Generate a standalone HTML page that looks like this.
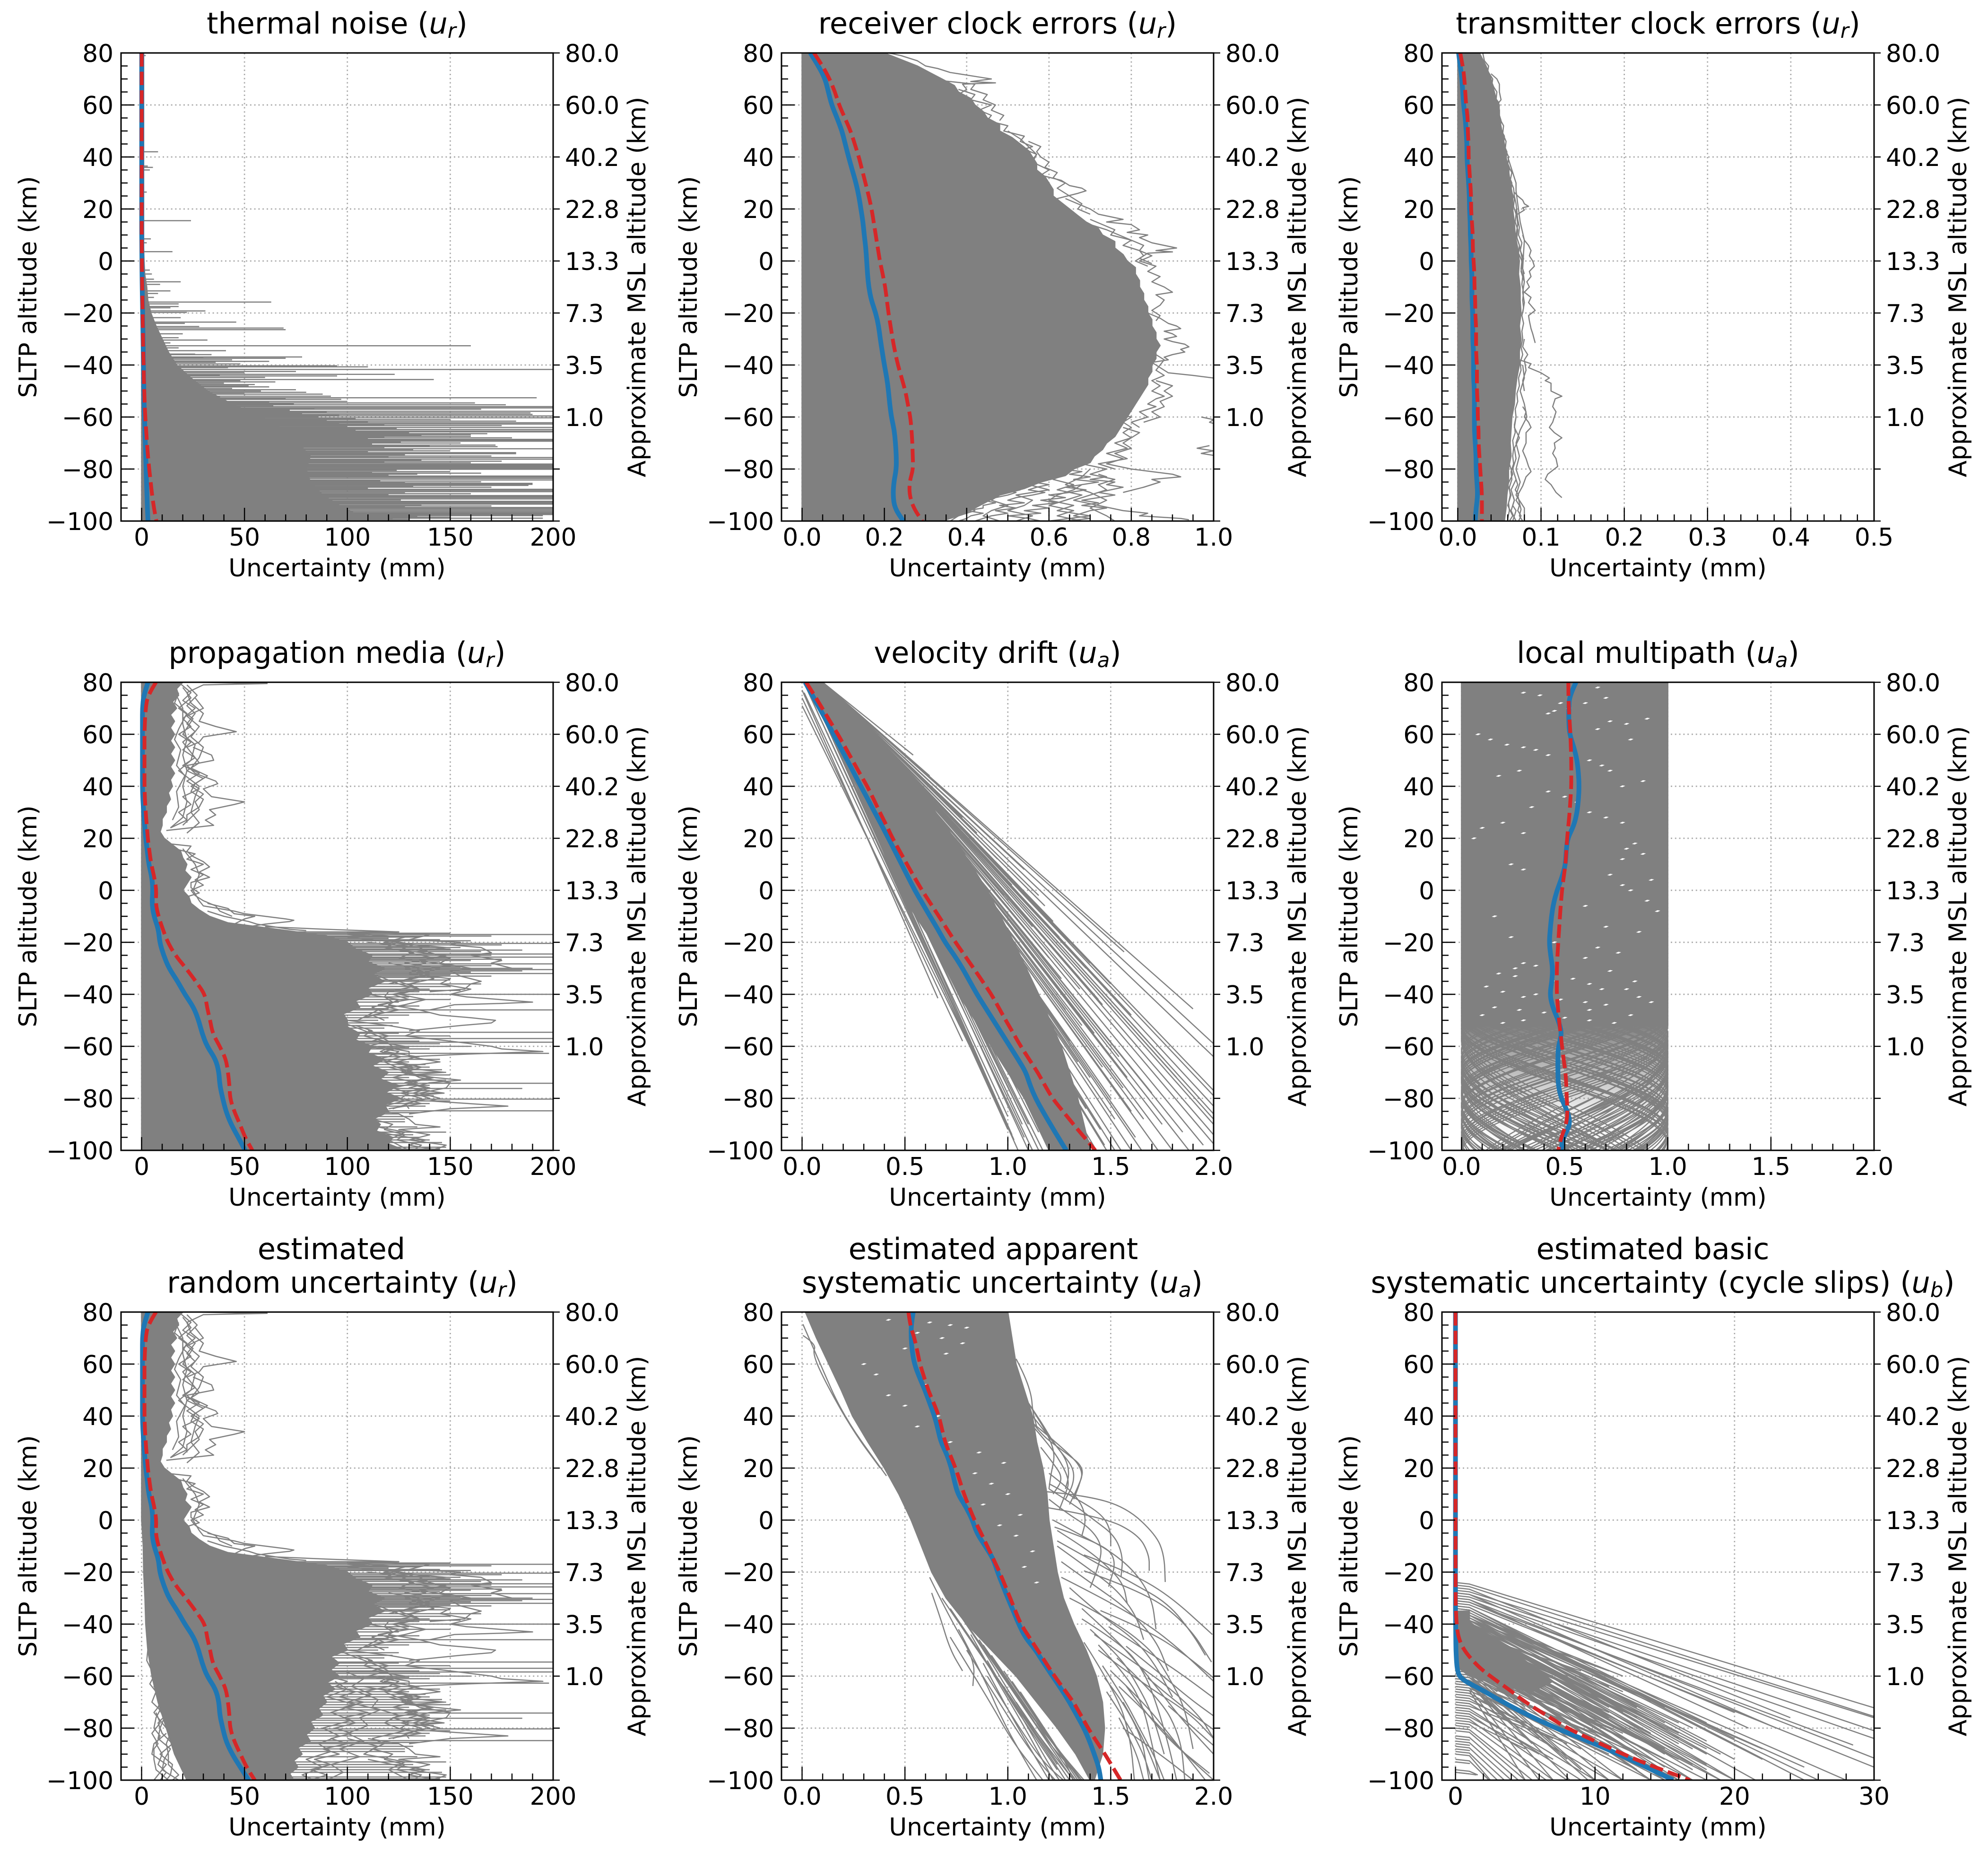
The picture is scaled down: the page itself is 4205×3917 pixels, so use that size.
<!DOCTYPE html>
<html lang="en">
<head>
<meta charset="utf-8">
<title>Uncertainty profiles by error source</title>
<style>
html,body{margin:0;padding:0;background:#fff;}
svg{display:block;font-family:"DejaVu Sans","Liberation Sans",sans-serif;}
.lab{font-size:51.7px;fill:#000;text-anchor:middle;}
.ttl{font-size:62px;fill:#000;text-anchor:middle;}
.it{font-style:italic;}
.sub{font-style:italic;font-size:43.5px;}
.tk{font-size:51.7px;fill:#000;}
</style>
</head>
<body>
<svg id="chart" xmlns="http://www.w3.org/2000/svg" width="4205" height="3917" viewBox="0 0 4205 3917">
<rect width="4205" height="3917" fill="#ffffff"/>
<g id="plots"></g>

<text class="ttl" x="713" y="71">thermal noise (<tspan class="it">u</tspan><tspan class="sub" dy="9">r</tspan><tspan dy="-9">)</tspan></text>
<text class="ttl" x="2110" y="71">receiver clock errors (<tspan class="it">u</tspan><tspan class="sub" dy="9">r</tspan><tspan dy="-9">)</tspan></text>
<text class="ttl" x="3507" y="71">transmitter clock errors (<tspan class="it">u</tspan><tspan class="sub" dy="9">r</tspan><tspan dy="-9">)</tspan></text>
<text class="ttl" x="713" y="1402">propagation media (<tspan class="it">u</tspan><tspan class="sub" dy="9">r</tspan><tspan dy="-9">)</tspan></text>
<text class="ttl" x="2110" y="1402">velocity drift (<tspan class="it">u</tspan><tspan class="sub" dy="9">a</tspan><tspan dy="-9">)</tspan></text>
<text class="ttl" x="3507" y="1402">local multipath (<tspan class="it">u</tspan><tspan class="sub" dy="9">a</tspan><tspan dy="-9">)</tspan></text>
<text class="ttl" x="701" y="2663">estimated</text>
<text class="ttl" x="724" y="2734">random uncertainty (<tspan class="it">u</tspan><tspan class="sub" dy="9">r</tspan><tspan dy="-9">)</tspan></text>
<text class="ttl" x="2101" y="2663">estimated apparent</text>
<text class="ttl" x="2120" y="2734">systematic uncertainty (<tspan class="it">u</tspan><tspan class="sub" dy="9">a</tspan><tspan dy="-9">)</tspan></text>
<text class="ttl" x="3496" y="2663">estimated basic</text>
<text class="ttl" x="3517" y="2734">systematic uncertainty (cycle slips) (<tspan class="it">u</tspan><tspan class="sub" dy="9">b</tspan><tspan dy="-9">)</tspan></text>

<text class="lab" x="713" y="1219">Uncertainty (mm)</text>
<text class="lab" x="2110" y="1219">Uncertainty (mm)</text>
<text class="lab" x="3507" y="1219">Uncertainty (mm)</text>
<text class="lab" x="713" y="2550">Uncertainty (mm)</text>
<text class="lab" x="2110" y="2550">Uncertainty (mm)</text>
<text class="lab" x="3507" y="2550">Uncertainty (mm)</text>
<text class="lab" x="713" y="3882">Uncertainty (mm)</text>
<text class="lab" x="2110" y="3882">Uncertainty (mm)</text>
<text class="lab" x="3507" y="3882">Uncertainty (mm)</text>

<text class="lab" transform="translate(77 607) rotate(-90)">SLTP altitude (km)</text>
<text class="lab" transform="translate(1474 607) rotate(-90)">SLTP altitude (km)</text>
<text class="lab" transform="translate(2871 607) rotate(-90)">SLTP altitude (km)</text>
<text class="lab" transform="translate(77 1938) rotate(-90)">SLTP altitude (km)</text>
<text class="lab" transform="translate(1474 1938) rotate(-90)">SLTP altitude (km)</text>
<text class="lab" transform="translate(2871 1938) rotate(-90)">SLTP altitude (km)</text>
<text class="lab" transform="translate(77 3270) rotate(-90)">SLTP altitude (km)</text>
<text class="lab" transform="translate(1474 3270) rotate(-90)">SLTP altitude (km)</text>
<text class="lab" transform="translate(2871 3270) rotate(-90)">SLTP altitude (km)</text>

<text class="lab" transform="translate(1365 607) rotate(-90)">Approximate MSL altitude (km)</text>
<text class="lab" transform="translate(2762 607) rotate(-90)">Approximate MSL altitude (km)</text>
<text class="lab" transform="translate(4159 607) rotate(-90)">Approximate MSL altitude (km)</text>
<text class="lab" transform="translate(1365 1938) rotate(-90)">Approximate MSL altitude (km)</text>
<text class="lab" transform="translate(2762 1938) rotate(-90)">Approximate MSL altitude (km)</text>
<text class="lab" transform="translate(4159 1938) rotate(-90)">Approximate MSL altitude (km)</text>
<text class="lab" transform="translate(1365 3270) rotate(-90)">Approximate MSL altitude (km)</text>
<text class="lab" transform="translate(2762 3270) rotate(-90)">Approximate MSL altitude (km)</text>
<text class="lab" transform="translate(4159 3270) rotate(-90)">Approximate MSL altitude (km)</text>
</svg>

<script>
/* ---------- shared axis values ---------- */
const altFive = [80,75,70,65,60,55,50,45,40,35,30,25,20,15,10,5,0,-5,-10,-15,-20,-25,-30,-35,-40,-45,-50,-55,-60,-65,-70,-75,-80,-85,-90,-95,-100];
const altTen = [80,70,60,50,40,30,20,10,0,-10,-20,-30,-40,-50,-60,-70,-80,-90,-100];
const altFine = [80,77.5,75,72.5,70,67.5,65,62.5,60,57.5,55,52.5,50,47.5,45,42.5,40,37.5,35,32.5,30,27.5,25,22.5,20,17.5,15,12.5,10,7.5,5,2.5,0,-2.5,-5,-7.5,-10,-12.5,-15,-17.5,-20,-22.5,-25,-27.5,-30,-32.5,-35,-37.5,-40,-42.5,-45,-47.5,-50,-52.5,-55,-57.5,-60,-62.5,-65,-67.5,-70,-72.5,-75,-77.5,-80,-82.5,-85,-87.5,-90,-92.5,-95,-97.5,-100];
const wallAlt = [80,-100];
const wallZero = [0,0];
const yMajorTicks = [80,60,40,20,0,-20,-40,-60,-80,-100];
const yLeftLabels = ['80','60','40','20','0','\u221220','\u221240','\u221260','\u221280','\u2212100'];
const yRightLabels = ['80.0','60.0','40.2','22.8','13.3','7.3','3.5','1.0','',''];

/* ---------- thermal noise ---------- */
const thermalBlue = [.05,.05,.05,.05,.05,.05,.05,.05,.05,.05,.05,.05,.05,.05,.05,.1,.15,.2,.3,.4,.5,.6,.7,.8,.9,1,1.1,1.2,1.4,1.6,1.8,2,2.2,2.4,2.6,2.8,3.1];
const thermalRed = [.05,.05,.05,.05,.05,.05,.05,.05,.05,.05,.05,.05,.05,.05,.05,.1,.15,.2,.3,.4,.5,.6,.7,.8,1,1.1,1.3,1.5,1.8,2.2,2.6,3.1,3.7,4.4,5.1,6,7.2];
const thermalHigh = [1,1,1,1,1,1,1,1,1,1,1,1,1,1,1,1,1.2,1.5,2.5,3,4.5,7,10,13,17,24,32,44,58,70,76,82,80,82,88,98,112];
const thermalSpikes = [[79,2],[42,8],[36.5,3],[36,5.5],[35,4],[26.5,2.5],[15.5,24],[8.5,4.5],[7,2.5],[3.6,15],[-3.5,4],[-5,5],[-7,6],[-8,19],[-9,9],[-11.5,14],[-12.5,8],[-14,6],[-15.8,63],[-16.5,18],[-17.5,18],[-18,14],[-19.2,31],[-19.8,22],[-21.8,19],[-23.5,46],[-24,21],[-25.2,28],[-25.8,69],[-26.4,70],[-28,20],[-29.5,18],[-30.4,32],[-31.5,14],[-32.6,160],[-33.4,18],[-34.5,41],[-35.8,26],[-36.9,78],[-37.4,70],[-38.6,62],[-39.6,48],[-40.3,95],[-40.7,110],[-41.7,200],[-42.5,75],[-43.6,123],[-44.2,95],[-44.8,60],[-45.6,142],[-46.5,65],[-47.5,55],[-48.4,62],[-49.5,75],[-50.5,80],[-51.2,88],[-52,92],[-52.6,192],[-53.2,97],[-54,100],[-54.6,162],[-55.3,177],[-56,200],[-56.5,200],[-57,165],[-57.8,200],[-58.4,189],[-59,190],[-59.6,200],[-60.3,200],[-61,150],[-61.6,182],[-62.2,200],[-62.7,200],[-63.3,175],[-64,200],[-64.8,200],[-65.4,200],[-65.7,200],[-66.4,168],[-66.8,160],[-67.4,160],[-68,180],[-68.6,200],[-68.9,200],[-69.3,200],[-70,155],[-70.8,172],[-71.4,173],[-72.2,200],[-73,150],[-73.7,182],[-74.1,182],[-75,170],[-75.6,200],[-76.2,200],[-77,175],[-77.6,160],[-78.1,200],[-78.5,200],[-78.9,200],[-79.3,200],[-79.7,200],[-80.1,200],[-81,150],[-81.6,165],[-82.7,200],[-83.1,200],[-83.6,200],[-84.2,200],[-84.9,165],[-85.5,190],[-85.9,190],[-86.3,188],[-87,170],[-87.8,200],[-88.2,200],[-88.7,200],[-89.5,160],[-90.2,200],[-90.6,200],[-91,200],[-91.5,200],[-92.4,200],[-92.8,200],[-93.2,200],[-93.5,200],[-94.2,170],[-94.8,200],[-95.2,200],[-95.7,200],[-96.2,200],[-96.7,200],[-97.1,200],[-97.5,200],[-97.9,195],[-98.5,150],[-98.9,195],[-99.4,130],[-99.8,160],
[-36,34],[-37,30],[-38,44],[-39,36],[-41,42],[-43,50],[-44,38],[-46,48],[-47,40],[-48,52],[-49,44],[-50,58],[-51,50],[-53,70],[-54.3,62],[-55,74],[-55.7,64],[-56.8,84],[-57.4,72],[-58,90],[-58.8,78],[-59.3,96],[-60,86],[-60.7,104],[-61.3,90],[-62,110],[-62.5,96],[-63,118],[-63.7,100],[-64.4,124],[-65,104],[-66,130],[-66.6,112],[-67.1,136],[-67.7,118],[-68.3,110],[-69.6,126],[-70.4,112],[-71,140],[-71.7,118],[-72.5,132],[-73.3,110],[-74.5,128],[-75.3,120],[-76.6,136],[-77.3,118],[-80.5,124],[-81.3,112],[-82,134],[-82.4,120],[-84.6,116],[-85.2,128],[-86.7,132],[-87.4,110],[-89,128],[-89.9,120],[-91.9,126],[-94,136],[-94.5,128],[-98.2,134],[-99,122]];

/* ---------- receiver clock errors ---------- */
const receiverBlue = [.02,.04,.056,.064,.072,.085,.097,.105,.113,.122,.131,.138,.143,.148,.151,.155,.157,.159,.162,.168,.179,.186,.19,.195,.2,.206,.21,.213,.217,.224,.227,.229,.229,.223,.221,.225,.246];
const receiverRed = [.029,.05,.067,.08,.09,.104,.118,.128,.138,.146,.154,.162,.169,.174,.179,.184,.189,.196,.202,.206,.21,.215,.22,.226,.233,.242,.251,.257,.263,.266,.268,.269,.27,.261,.261,.271,.292];
const receiverHigh = [.2,.24,.28,.31,.34,.37,.38,.41,.42,.44,.45,.48,.48,.51,.53,.55,.56,.57,.57,.59,.6,.61,.61,.63,.65,.67,.69,.72,.73,.76,.76,.78,.79,.81,.81,.82,.82,.83,.83,.84,.84,.85,.85,.86,.86,.87,.86,.86,.85,.85,.84,.84,.83,.82,.81,.8,.79,.78,.77,.76,.74,.73,.71,.7,.66,.64,.58,.54,.48,.45,.42,.39,.34];
const receiverRough = [
[80,.21,79,.24,77,.28,75,.3,74,.33,72.5,.36,72,.38,70.5,.44,70,.46,69,.41,68.5,.47,68,.39,66,.4,64,.38,61,.4],
[66,.38,64,.42,62,.41,60,.46,58,.43,56,.46,54,.45,52,.5,50,.49,48,.54,46,.53,44,.56,43,.54,41,.57,39,.56],
[50,.5,47,.53,44,.55,41,.57,38,.56,35,.6,33,.58,31,.63,29,.65,28,.68,27,.69,26,.67,24,.62,21,.63],
[24,.64,22,.67,20,.7,18,.72,16,.78,15,.74,14,.8,12,.82,11,.79,10,.84,9,.82,7,.85,6,.88,5,.91,4,.86,3.5,.9,3,.84,1,.82,-1,.85],
[14,.7,12,.74,10,.77,8,.8,6,.83,4,.82,2,.85,0,.82,-2,.86,-4,.84,-6,.87,-8,.85,-10,.88,-11,.89,-12,.9,-13,.86,-15,.88,-17,.87,-19,.85,-21,.87,-23,.86],
[-20,.84,-22,.87,-24,.89,-25,.91,-26,.92,-27,.88,-28,.9,-29,.91,-30,.88,-31,.9,-32,.93,-33,.94,-34,.92,-35,.93,-36,.9,-37,.88,-38,.89,-39,.85,-41,.87,-43,.89,-44,.95,-45,1,-45.5,1.02],
[-36,.86,-38,.88,-40,.87,-42,.86,-44,.88,-46,.85,-48,.87,-50,.85,-52,.88,-53,.86,-55,.84,-56,.86,-58,.82,-60,.84,-62,.8,-64,.82],
[-60,.97,-61,1,-62,.99,-63,1.01],[-71,.99,-72,.96,-73,1,-74,.97,-75,1.01],
[-58,.74,-60,.8,-62,.78,-64,.8,-66,.78,-68,.8,-70,.76,-72,.79,-74,.74,-76,.78,-78,.74,-80,.8,-81,.85,-82,.9,-83,.92,-84,.85,-85,.87,-87,.83,-89,.78],
[-74,.66,-76,.7,-78,.68,-80,.74,-82,.7,-84,.76,-86,.72,-88,.74,-90,.7,-92,.66,-94,.72,-96,.78,-97,.84,-98,.82,-99,.92,-99.5,.94],
[-80,.6,-82,.64,-84,.61,-86,.66,-88,.62,-90,.68,-92,.64,-94,.6,-96,.66,-98,.62,-100,.68],
[-82,.54,-84,.58,-86,.55,-88,.6,-90,.52,-92,.56,-94,.54,-96,.5,-98,.56,-100,.52],
[-84,.48,-86,.5,-88,.53,-90,.48,-92,.46,-94,.5,-96,.46,-98,.44,-100,.48],
[-84,.44,-86,.42,-88,.46,-90,.44,-92,.42,-94,.4,-96,.42,-98,.38,-100,.36],
[-86,.68,-88,.66,-90,.62,-92,.6,-94,.66,-96,.62,-98,.7,-100,.6],
[-80,.7,-83,.68,-86,.64,-89,.7,-92,.74,-95,.7,-98,.74,-100,.76],
[-88,.36,-90,.34,-92,.38,-94,.34,-96,.36,-98,.34,-100,.32],
[-78,.62,-79,.66,-80,.63,-81,.68,-82,.65,-83,.7,-84,.66,-85,.72,-86,.68,-87,.64,-88,.69,-89,.65,-90,.6,-91,.64,-92,.58,-93,.62,-94,.56,-95,.6,-96,.54,-97,.58,-98,.5,-99,.55,-100,.58],
[-85,.56,-86,.6,-87,.57,-88,.55,-89,.59,-90,.56,-91,.52,-92,.5,-93,.54,-94,.48,-95,.52,-96,.47,-97,.5,-98,.46,-99,.44,-100,.42],
[-82,.72,-83,.74,-84,.7,-85,.76,-86,.74,-87,.78,-88,.75,-89,.72,-90,.76,-91,.72,-92,.68,-93,.72,-94,.68,-95,.74,-96,.7,-97,.68,-98,.66,-99,.7,-100,.64],
[-86,.48,-87,.52,-88,.49,-89,.52,-90,.5,-91,.47,-92,.44,-93,.47,-94,.44,-95,.44,-96,.4,-97,.44,-98,.41,-99,.4,-100,.38],
[70,.3,68,.42,66,.41,64,.45,62,.44,60,.47,58,.46,56,.49,54,.48],
[46,.55,44,.58,42,.57,40,.58,38,.6,36,.59,34,.62,32,.61,30,.64,28,.62,26,.64,24,.66,22,.68,20,.67,18,.7],
[16,.7,14,.73,12,.76,10,.75,8,.8,6,.78,4,.82,2,.83,0,.81,-2,.84],
[-46,.86,-48,.9,-50,.88,-52,.9,-54,.87,-56,.88,-58,.85,-60,.87,-62,.83],
[-64,.78,-66,.82,-68,.8,-70,.78,-72,.8,-74,.76,-76,.79,-78,.72,-80,.76]
];

/* ---------- transmitter clock errors ---------- */
const transmitterBlue = [.001,.003,.005,.006,.007,.009,.01,.011,.011,.012,.013,.014,.014,.015,.015,.016,.016,.017,.017,.017,.018,.018,.018,.019,.019,.019,.02,.02,.02,.02,.021,.022,.022,.023,.024,.022,.021];
const transmitterRed = [.003,.006,.008,.009,.01,.012,.012,.013,.013,.014,.015,.016,.016,.017,.018,.018,.019,.02,.02,.021,.021,.022,.022,.022,.023,.023,.023,.024,.024,.025,.025,.026,.027,.028,.029,.029,.029];
const transmitterHigh = [.026,.034,.04,.044,.048,.05,.053,.056,.058,.061,.063,.066,.066,.068,.069,.072,.074,.073,.075,.075,.076,.074,.076,.074,.074,.071,.069,.068,.065,.064,.063,.064,.061,.061,.059,.058,.056];
const transmitterRough = [
[-38,.074,-39.5,.088,-41,.085,-43,.1,-45,.11,-46,.105,-47,.112,-50,.112,-52,.125,-53,.117,-56,.114,-58,.118,-60,.116,-62,.114,-64,.11,-66,.116,-68,.125,-70,.116,-72,.117,-74,.114,-76,.118,-79,.12,-82,.108,-84,.105,-86,.112,-89,.118,-91,.125],
[26.4,.068,25,.072,23.4,.078,22,.08,21,.085,20.5,.078,19.6,.08,18,.072],
[10,.078,8,.08,6,.085,4,.088,2,.086,0,.09,-2,.092,-4,.086,-6,.088,-8,.083,-10,.086,-12,.08,-14,.088,-16,.085,-19,.093,-21,.085,-23,.086,-26,.088,-28,.09,-31.5,.093],
[72,.04,70,.047,68,.05,65,.05,62,.052,60,.047,58,.05,54,.05,50,.053,47,.052],
[40,.06,36,.064,30,.07,27,.07,22,.072,15,.075,8,.08,3,.079,-3,.078,-8,.08],
[-56,.078,-58,.082,-60,.08,-62,.085,-64,.088,-66,.082,-70,.082,-73,.078,-76,.082,-79,.085,-81,.088,-83,.082,-86.5,.078,-90,.072,-93,.074,-95.5,.076,-98,.074,-100,.078],
[-40,.078,-45,.08,-50,.075,-55,.08,-60,.083,-65,.075,-70,.07,-75,.074,-80,.07,-85,.075,-90,.07,-95,.08,-100,.08],
[-30,.08,-33,.078,-36,.084,-38,.08,-42,.082,-46,.078,-50,.08],
[-60,.07,-64,.068,-68,.074,-72,.068,-76,.07,-80,.066,-84,.07,-88,.064,-92,.068,-96,.064,-100,.07],
[20,.07,14,.072,10,.07,6,.074,0,.078,-4,.076,-8,.08,-12,.078,-16,.08,-20,.078],
[-70,.06,-74,.064,-78,.062,-82,.066,-86,.06,-90,.064,-94,.06,-98,.066,-100,.062],
[80,.03,77,.032,75,.037,73,.036,70,.042,68,.041,65,.047,62,.046,60,.05,57,.049,54,.052,51,.051,48,.056,45,.055,42,.059,39,.058,36,.062,33,.061,30,.065,27,.064,24,.068,21,.067,18,.07,15,.069,12,.072,9,.071,6,.074,3,.073,0,.077,-3,.076,-6,.078,-9,.077,-12,.079,-15,.078,-18,.079,-21,.077,-24,.079,-27,.077,-30,.078,-33,.076,-36,.078,-39,.075,-42,.076,-45,.073,-48,.074,-51,.071,-54,.072,-57,.069,-60,.07,-63,.068,-66,.069,-69,.066,-72,.067,-75,.066,-78,.067,-81,.064,-84,.065,-87,.062,-90,.063,-93,.061,-96,.062,-99,.06],
[78,.028,74,.033,71,.038,67,.043,64,.042,61,.049,58,.05,55,.05,52,.055,49,.054,46,.058,43,.057,40,.061,37,.06,34,.065,31,.063,28,.067,25,.068,22,.07,19,.071,16,.072,13,.074,10,.073,7,.077,4,.075,1,.079,-2,.077,-5,.08],
[-84,.07,-86,.072,-88,.069,-90,.073,-92,.07,-94,.074,-96,.072,-98,.076,-100,.073],
[-90,.066,-92,.068,-94,.066,-96,.07,-98,.068,-100,.066]
];

/* ---------- propagation media ---------- */
const mediaBlue = [3.1,1,.4,.4,.4,.4,.4,.4,.4,.6,1,1.5,2,2.8,3.5,5,5.5,5,6,8.2,8.8,10.7,13.3,17.5,21,25.3,27.7,29.4,31.8,36,37.6,38,39.4,41,43.5,47,50.3];
const mediaRed = [7,3,2,1.6,1.4,1.4,1.4,1.4,1.4,1.6,2,2.5,3,3.8,4.7,6.2,7.2,6.8,8.2,10.3,12.7,16.4,21.6,26.3,30.8,31.8,33.3,34.5,38,41,42,42.7,43,45,47.8,50.3,53.8];
const mediaHigh = [20,17,18,15,17,14,16,14,16,14,16,14,16,14,16,14,15,13,14,12,12,10,10,9,11,15,19,20,22,21,24,22,20,23,24,28,33,42,66,90,100,104,112,110,118,112,118,110,112,104,106,98,100,100,106,104,112,110,118,112,120,116,124,118,126,118,120,112,116,114,122,120,128];
const mediaSpikes = [[-17,200],[-16,125],[-16.5,150],[-17.6,170],[-18.5,120],[-19.4,160],[-20.4,200],[-21,175],[-22,155],[-23,185],[-24.5,200],[-25.7,200],[-26.5,175],[-28.3,200],[-29,170],[-30,190],[-30.5,200],[-31,185],[-32,200],[-33,170],[-34.5,150],[-36,165],[-40,200],[-38.5,155],[-42,150],[-46,200],[-47,140],[-48,130],[-51,125],[-54.6,200],[-56,150],[-57,200],[-58.4,200],[-59,145],[-60,160],[-61,140],[-62.7,198],[-64,135],[-66,130],[-68,140],[-70,148],[-72,130],[-74.2,200],[-76.2,185],[-77,140],[-78,145],[-80.3,200],[-81,150],[-82,140],[-84.8,200],[-86,125],[-88,128],[-93,148],[-95,135],[-98.8,148],[-99.5,145],
[-18,135],[-19,145],[-21.6,140],[-22.6,150],[-23.6,165],[-25,170],[-26,150],[-27,160],[-27.6,145],[-29.5,155],[-31.5,160],[-32.5,150],[-33.5,145],[-35,135],[-37,150],[-38,140],[-39,135],[-41,130],[-43,125],[-44.5,135],[-45.5,120],[-49,120],[-50,115],[-52,122],[-53,118],[-55,125],[-58,135],[-60.5,130],[-63,128],[-65,145],[-67,138],[-69,146],[-71,150],[-73,148],[-75,140],[-79,142],[-83,138],[-85.5,135],[-87,132],[-89,128],[-91,134],[-94,132],[-96,140],[-97,146]];
const mediaRough = [
[80,25,79.5,61,79,30,76,22,72,24,68,30,65,28,63,36,61,46,59,30,57,28,55,22],
[55,25,52,34,50,35,48,22,45,26,42,36,41,37,39,30,36,34,34,50,33,45,31,33,29,36,27,31,25,35,23,12],
[78,20,74,24,70,18,66,25,60,20,56,26,50,24,46,18,40,28,36,26,30,24,26,28,22,22],
[78,15,70,20,64,20,58,22,52,20,46,22,40,20,34,22,28,20,24,14],
[76,18,72,16,68,22,62,18,58,16,54,19,48,17,44,21,38,17,32,18,27,15],
[80,18,76,24,73,20,70,26,66,20,63,24,60,18,57,24,54,20,51,26,48,20,45,28,42,22,39,28,36,20,33,24,30,18,27,22,24,14],
[79,22,75,27,71,22,68,26,64,22,61,26,57,20,53,24,49,28,46,22,43,30,40,24,37,30,34,26,31,28,28,24,25,20],
[74,26,70,30,67,22,63,28,59,24,55,30,51,28,47,24,44,32,41,26,38,24,35,30,32,28,29,22,26,22],
[18,12,17,24,15,22,13,25,11,30,9,33,7,28,5,33,3,24,1,24,-1,28,-3,20],
[16,20,10,26,6,28,0,25,-4,28,-6,30,-8,45,-9,50,-10,60,-11,70,-11.5,74,-12,72,-13,60,-14,52,-16,58],
[-5,32,-7,42,-9,45,-10,55,-11,50,-13,45,-15,50],
[16,16,14,26,12,22,10,30,8,24,6,30,4,26,2,30,0,24,-2,26,-4,30,-6,36,-8,38,-10,44],
[-8,32,-10,40,-11,46,-12,52,-13,56,-14,64,-15,72,-15.5,80],
[-16,100,-17,140,-19,130,-20,155,-21,150,-22,165,-24,170,-25,160,-27,175,-28,170,-30,180],
[-20,110,-22,135,-24,140,-26,150,-28,145,-30,160,-31,150,-33,155,-35,165,-36,160,-38,157,-39,140],
[-28,120,-30,135,-32,130,-34,150,-36,145,-38,160,-40,150,-41,158,-43,190,-43.5,175,-44,152,-46,140],
[-40,110,-42,125,-44,120,-46,135,-48,145,-49,160,-50,172,-51,170,-52,155,-54,130],
[-50,100,-52,120,-54,135,-56,128,-58,150,-60,170,-61,175,-62,195,-63,158,-64,130],
[-60,115,-62,130,-64,130,-66,145,-68,125,-70,147,-71,130,-73,155,-74,140,-76,130,-78,147,-79,130],
[-68,120,-70,130,-72,135,-74,150,-76,148,-78,135,-80,145,-81,140,-83,178,-84,150,-86,130],
[-84,110,-86,125,-88,130,-90,133,-91,145,-92,125,-94,140,-96,130,-98,148,-99,145,-100,140],
[-14,60,-15,90,-16,125,-17,100,-18,120],
[-30,100,-33,115,-36,125,-38,135,-40,125,-42,138,-44,128,-46,115,-48,110,-50,105],
[-50,95,-53,105,-56,115,-58,120,-60,110,-62,125,-64,120,-66,108],
[-66,105,-69,115,-72,112,-75,125,-78,118,-81,128,-84,112],
[-84,100,-87,115,-90,108,-93,128,-96,120,-100,130],
[-18,100,-20,125,-22,118,-24,132,-26,125,-28,138,-30,128,-32,140,-34,130,-36,120],
[-64,108,-66,122,-68,132,-70,126,-72,140,-74,128,-76,138,-78,126,-80,136,-82,130,-84,122],
[-92,110,-94,122,-96,138,-98,130,-100,145],
[-17,110,-18,128,-20,118,-22,148,-24,130,-26,142,-28,128,-30,145,-32,135,-34,142,-36,130,-38,135,-40,122,-42,130,-44,115,-46,125,-48,112,-50,118],
[-19,120,-21,132,-23,125,-25,148,-27,135,-29,150,-31,132,-33,138,-35,125,-37,132,-39,120,-41,118,-43,122,-45,112,-47,118,-49,108],
[-52,104,-54,112,-56,108,-58,118,-60,122,-62,116,-64,126,-66,118,-68,124,-70,132,-72,122,-74,134,-76,122,-78,130,-80,126,-82,136,-84,120],
[-54,110,-56,120,-58,112,-60,128,-62,118,-64,134,-66,124,-68,136,-70,128,-72,142,-74,130,-76,140,-78,132,-80,140,-82,128,-84,130],
[-84,112,-86,118,-88,112,-90,122,-92,118,-94,128,-96,124,-98,136,-100,132]
];

/* ---------- velocity drift ---------- */
const driftBlue = [.015,.05,.085,.12,.153,.186,.22,.253,.286,.32,.353,.387,.42,.452,.484,.516,.548,.585,.622,.66,.695,.74,.78,.815,.85,.89,.93,.97,1.01,1.05,1.088,1.108,1.135,1.17,1.207,1.245,1.284];
const driftRed = [.02,.06,.098,.136,.174,.21,.245,.28,.317,.348,.378,.41,.44,.475,.51,.546,.583,.624,.665,.705,.746,.79,.834,.877,.92,.955,.99,1.027,1.063,1.104,1.145,1.18,1.217,1.268,1.319,1.372,1.425];
const driftHigh = [.1,.35,.56,.74,.9,1.03,1.15,1.26,1.34,1.4];
const driftLow = [.015,.14,.265,.37,.47,.635,.76,.92,1.08,1.2];
const driftEdgeAlt = [80,60,40,20,0,-20,-40,-60,-80,-100];
const driftTraces = [
[0,77,.66,-41.5],[0,74,.78,-58],[0,71,.84,-64],[.01,76,.89,-72],[.02,78,.93,-78],[.02,78,1,-92],[.03,79,1,-87],[.03,79,1.05,-100],[.03,79,1.08,-95],[.04,80,1.12,-100],[.04,80,1.17,-100],[.05,80,1.2,-98],[.05,80,1.24,-100],[.05,80,1.28,-100],[.06,80,1.33,-100],[.06,80,1.38,-100],[.06,80,1.42,-100],
[.1,80,1.565,-23.7],[.1,80,1.9,-45.6],[.1,80,2,-59],[.1,80,2,-64],[.1,80,2,-77],[.1,80,2,-79],[.1,80,2,-83],[.1,80,2,-86],[.1,80,2,-88],[.1,80,2,-90],[.1,80,2,-94],[.1,80,2,-97.5],[.1,80,1.95,-98],[.1,80,1.88,-100],[.1,80,1.8,-100],[.1,80,1.73,-100],[.1,80,1.65,-100],[.09,80,1.6,-100],[.09,80,1.55,-100],[.09,80,1.52,-100],[.09,80,1.48,-100],
[.1,80,1.44,-42],[.1,80,1.3,-20],[.1,80,1.22,-12],[.09,80,1.35,-38],[.09,80,1.5,-60],[.09,80,1.58,-72],[.09,80,1.42,-55],[.09,80,1.6,-85],[.09,80,1.7,-78],[.09,80,1.75,-90],[.09,80,1.66,-88],[.09,80,1.85,-93],[.09,80,1.5,-80],[.09,80,1.62,-95],[.1,80,1.76,-65],[.1,80,1.68,-58],[.1,80,1.6,-48],[.1,80,1.5,-36],[.1,80,1.82,-72],[.1,80,1.4,-28],[.1,80,1.15,-2],[.1,80,1.08,8],[.1,80,1.05,-1],[.08,80,1.3,-58],[.08,80,1.4,-72],[.08,80,1.52,-88],[.08,80,1.45,-92],
[.03,80,1.1,-90],[.03,80,1.03,-96],[.03,80,1.12,-95],[.04,80,1.15,-93],[.04,80,1.21,-95],[.04,80,1.26,-98],
[.08,80,1,-4],[.08,80,1.12,-14],[.08,80,1.2,-26],[.08,80,1.26,-34],[.08,80,1.28,-46],[.08,80,1.36,-52],[.08,80,1.34,-66],[.08,80,1.46,-68],[.08,80,1.38,-84],[.08,80,1.47,-98],[.08,80,1.43,-100],[.09,80,1.56,-76],[.09,80,1.25,-18],[.09,80,1.18,-6],[.09,80,.98,-2],[.09,80,1.38,-30],[.09,80,1.46,-44],[.09,80,1.54,-64],[.1,80,.85,22],[.1,80,.78,28],[.1,80,.95,12],[.1,80,1.02,2],[.1,80,.7,38],[.1,80,.62,44],[.1,80,.54,52],
[.05,80,1.02,-94],[.05,80,1.07,-90],[.05,80,1.14,-88],[.05,80,1.18,-92],[.05,80,1.1,-100],[.05,80,1.15,-100],[.06,80,1.22,-100],[.06,80,1.3,-97],[.06,80,1.35,-100]
];

/* ---------- local multipath ---------- */
const multipathBlue = [.555,.524,.52,.52,.524,.545,.56,.567,.57,.567,.56,.545,.514,.507,.504,.487,.463,.446,.436,.43,.425,.432,.442,.438,.428,.442,.469,.487,.469,.467,.467,.469,.483,.514,.528,.493,.483];
const multipathRed = [.518,.518,.52,.524,.528,.53,.532,.532,.532,.528,.524,.518,.512,.508,.504,.495,.487,.482,.477,.473,.469,.465,.462,.462,.462,.467,.473,.48,.487,.495,.504,.508,.51,.514,.508,.483,.469];
const multipathBandAlt = [80,-52];
const multipathBandHigh = [1,1];
const multipathBandLow = [0,0];
const multipathStartWall = [0,1,0,1,1,0,0,1,0,1,1,0,1,0,0,1,1,0,1,0,0,1,0,1,1,0,1,0,1,0,0,1,0,1,1,0,1,0,0,1,0,1,0,1,1,0,1,0,1,0,0,1,1,0,0,1,0,1,1,0,1,0,0,1,0,1,1,0,0,1,1,0,1,0,0,1,0,1,0,1,1,0,1,0,0,1,1,0,1,0,1,0,0,1,0,1,1,0,0,1,0,1,1,0,1,0,0,1,0,1,1,0,1,0,1,0,0,1,1,0];
const multipathTurns = [
[-148,-94,-50],[-132,-78,-38],[-140,-88,-46],[-126,-72,-34],[-150,-98,-56],[-118,-66,-30],[-136,-84,-44],[-128,-74,-36],[-144,-92,-52],[-122,-70,-32],
[-138,-86,-48],[-130,-76,-40],[-146,-96,-54],[-116,-64,-28],[-134,-82,-42],[-124,-71,-33],[-142,-90,-49],[-120,-68,-31],[-152,-100,-58],[-127,-75,-37],
[-139,-87,-45],[-131,-79,-41],[-147,-95,-53],[-117,-65,-29],[-135,-83,-43],[-125,-73,-35],[-143,-91,-51],[-121,-69,-32],[-149,-97,-55],[-129,-77,-39],
[-137,-85,-47],[-119,-67,-30],[-145,-93,-50],[-133,-80,-42],[-123,-72,-36],[-141,-89,-48],[-151,-99,-57],[-115,-63,-27],[-128,-76,-38],[-136,-82,-44],
[-144,-90,-46],[-120,-70,-34],[-130,-78,-40],[-148,-96,-52],[-118,-68,-33],[-134,-84,-45],[-126,-74,-37],[-140,-86,-48],[-122,-66,-31],[-146,-92,-54],
[-132,-81,-43],[-124,-69,-35],[-150,-94,-56],[-138,-88,-49],[-116,-62,-28],[-142,-83,-41],[-128,-71,-32],[-136,-79,-39],[-120,-64,-30],[-144,-87,-47],
[-130,-73,-36],[-152,-97,-53],[-126,-67,-34],[-140,-85,-46],[-118,-60,-26],[-134,-77,-38],[-146,-91,-50],[-122,-63,-29],[-138,-80,-42],[-128,-70,-33],
[-148,-93,-51],[-116,-59,-25],[-142,-82,-44],[-132,-75,-37],[-124,-65,-31],[-136,-78,-40],[-150,-95,-55],[-120,-61,-28],[-144,-84,-45],[-130,-72,-35],
[-112,-58,-26],[-126,-68,-32],[-140,-89,-47],[-146,-98,-52],[-118,-62,-30],[-134,-76,-39],[-122,-57,-24],[-138,-81,-43],[-152,-101,-59],[-128,-69,-34],
[-142,-86,-46],[-114,-56,-23],[-136,-74,-36],[-148,-90,-49],[-124,-60,-27],[-130,-66,-31],[-144,-83,-42],[-116,-55,-22],[-120,-58,-26],[-140,-78,-38],
[-132,-68,-33],[-146,-88,-48],[-126,-62,-28],[-150,-92,-53],[-118,-54,-21],[-134,-72,-35],[-138,-75,-37],[-122,-56,-24],[-142,-80,-41],[-128,-64,-30],
[-112,-52,-20],[-144,-76,-39],[-116,-53,-22],[-136,-70,-34],[-120,-55,-23],[-148,-84,-44],[-130,-60,-27],[-124,-57,-25],[-140,-73,-36],[-114,-51,-19]
];
const multipathFlecks = [[69,.45],[70,.52],[68,.42],[72,.6],[75,.38],[74,.7],[65,.72],[64,.8],[62,.66],[66,.9],[60,.08],[58,.14],[56,.22],[55,.3],[54,.36],[50,.62],[48,.68],[46,.28],[44,.18],[42,.88],[40,.78],[38,.42],[36,.5],[34,.56],[32,.34],[30,.62],[28,.7],[26,.2],[24,.1],[20,.06],[18,.84],[16,.8],[14,.88],[12,.78],[10,.24],[8,.3],[6,.72],[4,.92],[2,.78],[0,.82],[-4,.9],[-8,.95],[-10,.16],[-14,.7],[-18,.24],[-20,.45],[-24,.76],[-26,.6],[-30,.26],[-32,.18],[-34,.54],[-36,.62],[-38,.68],[-40,.36],[-42,.48],[-44,.7],[-46,.62],[-48,.82],[-50,.3],[-51,.2],
[-28,.3],[-29,.36],[-33,.26],[-35,.44],[-37,.12],[-39,.2],[-41,.86],[-43,.92],[-45,.16],[-46,.28],[-47,.4],[-48,.1],[-49,.5],[-50,.62],[-51,.74],[-43,.6],[-41,.3],[-38,.8],[-35,.84],[-31,.72],[-22,.66],[-16,.86],[-6,.6],[22,.3],[26,.78],[46,.72],[52,.42],[58,.82],[72,.48],[76,.3],[78,.66]];

/* ---------- estimated random uncertainty ---------- */
const randomBlue = [3.1,1,.4,.4,.4,.4,.4,.4,.4,.6,1,1.5,2,2.8,3.5,5,5.5,5,6,8.2,8.8,10.7,13.3,17.5,21,25.3,27.7,29.4,31.8,36,37.6,38,39.4,41,44,48,52];
const randomRed = [7,3,2,1.6,1.4,1.4,1.4,1.4,1.4,1.6,2,2.5,3,3.8,4.7,6.2,7.2,6.8,8.2,10.3,12.7,16.4,21.6,26.3,30.8,31.8,33.3,34.5,38,41,42,42.7,43,45,48,51,55];
const randomHigh = [20,17,18,15,17,14,16,14,16,14,16,14,16,14,16,14,15,13,14,12,12,10,10,9,11,15,19,20,22,21,24,22,20,23,24,28,33,42,66,90,100,104,112,110,118,112,118,110,112,104,106,98,100,92,96,92,96,90,94,88,90,86,88,82,84,80,82,76,78,74,76,72,74];
const randomLowAlt = [80,0,-10,-20,-30,-40,-50,-60,-70,-80,-90,-100];
const randomLow = [0,0,.8,1,1.6,2,3,5,8,12,16,22];
const randomLeftRough = [
[-50,3,-54,2.5,-58,5,-60,6,-63,4,-66,7,-70,5,-73,9,-76,7,-80,6,-83,9,-86,7,-90,10,-94,8,-97,12,-100,9],
[-70,10,-74,6,-78,10,-82,14,-86,12,-90,13,-94,13,-98,18,-100,15],
[-56,5,-60,9,-64,6,-68,10,-72,8,-76,11,-80,9,-84,8,-88,14,-92,11,-96,10,-100,18],
[-74,7,-78,9,-82,5,-86,8,-88,6,-92,6,-96,7,-100,13],
[-82,12,-86,6,-90,5,-94,12,-98,8,-100,6],
[-62,8,-66,10,-70,9,-74,13,-78,8,-82,10,-86,15,-90,9,-94,15,-98,14,-100,12]
];
const randomRightRough = [
[-60,90,-62,100,-64,94,-66,104,-68,96,-70,108,-72,98,-74,110,-76,98,-78,104,-80,94,-82,102,-84,92,-86,100,-88,88,-90,96,-92,84,-94,92,-96,82,-98,90,-100,82],
[-58,98,-61,108,-64,102,-67,112,-70,100,-73,116,-76,106,-79,110,-82,100,-85,108,-88,96,-91,106,-94,92,-97,98,-100,90],
[-62,94,-65,100,-68,90,-71,104,-74,92,-77,102,-80,88,-83,96,-86,86,-89,92,-92,80,-95,88,-98,78,-100,84]
];

/* ---------- estimated apparent systematic uncertainty ---------- */
const apparentBlue = [.54,.53,.53,.535,.546,.57,.597,.62,.644,.66,.675,.705,.726,.74,.757,.797,.828,.849,.89,.93,.95,.975,1,1.027,1.053,1.084,1.135,1.175,1.217,1.26,1.3,1.335,1.37,1.397,1.42,1.442,1.452];
const apparentRed = [.517,.525,.546,.56,.573,.593,.613,.64,.665,.68,.695,.72,.746,.767,.787,.812,.838,.87,.9,.93,.96,.986,1.012,1.037,1.063,1.104,1.145,1.186,1.227,1.273,1.319,1.355,1.39,1.43,1.472,1.51,1.548];
const apparentHigh = [1,1.02,1.04,1.08,1.12,1.14,1.17,1.19,1.2,1.22,1.24,1.27,1.32,1.38,1.43,1.46,1.47,1.46,1.42];
const apparentLow = [.016,.07,.13,.19,.245,.32,.4,.47,.53,.58,.63,.7,.8,.92,1.04,1.14,1.24,1.33,1.4];
const apparentRough = [
[37,1.125,32.5,1.166,26,1.28,20.3,1.37,14.1,1.35,8,1.32],
[37,1.125,26.4,1.29,18.7,1.37,12.6,1.34,6,1.3],
[11,1.176,9.6,1.37,5,1.575,-5.7,1.72,-13.4,1.76,-23.8,1.765],
[5,1.176,1.1,1.47,-5.7,1.636,-13.4,1.687,-19.5,1.687],
[-2.7,1.227,-8.8,1.45,-15,1.53,-25.6,1.49],
[-13.4,1.37,-19.5,1.575,-28.6,1.78,-44,1.994],
[-19.5,1.37,-28,1.68,-40.9,1.88,-54.6,1.99],
[-34.8,1.45,-42.4,1.68,-51.6,1.86,-60.7,2],
[-41,1.49,-51.6,1.7,-59,1.84,-68.4,2],
[-48.5,1.575,-59,1.74,-68.4,1.88,-75.3,2],
[-53,1.53,-68.4,1.74,-83.6,1.84,-100,1.86],
[-60.7,1.68,-71.4,1.84,-80.6,2],
[-60.7,1.47,-77.5,1.636,-100,1.687],
[-63.8,1.575,-82,1.74,-97.4,1.98],
[-71.4,1.78,-86.7,2],
[-47,1.37,-66.8,1.53,-83.6,1.595,-100,1.615],
[62,1.04,56,1.08,48,1.115,42,1.12,36,1.14],
[50,1.06,40,1.14,32,1.2,25,1.23,18,1.21,12,1.2],
[38,1.1,30,1.19,22,1.26,15,1.3,10,1.28,4,1.25],
[28,1.16,22,1.22,16,1.27,10,1.22],
[12,1.2,6,1.32,0,1.42,-6,1.52,-14,1.56,-22,1.55],
[8,1.2,3,1.28,-3,1.4,-10,1.46,-18,1.44,-26,1.4],
[0,1.22,-6,1.36,-12,1.5,-20,1.62,-30,1.7,-42,1.72],
[-8,1.24,-16,1.42,-24,1.6,-32,1.78,-44,1.9,-52,1.96],
[-22,1.26,-30,1.46,-40,1.68,-50,1.84,-62,2],
[-30,1.3,-38,1.5,-50,1.7,-60,1.78,-72,1.86,-88,1.9],
[-38,1.36,-48,1.56,-58,1.66,-70,1.72,-86,1.78,-100,1.82],
[-44,1.42,-54,1.6,-64,1.78,-76,1.94,-84,2],
[-50,1.44,-62,1.64,-74,1.88,-84,2],
[-58,1.5,-70,1.66,-84,1.8,-100,1.96],
[-64,1.54,-76,1.7,-90,1.86,-100,2],
[-70,1.56,-84,1.66,-100,1.74],
[-76,1.54,-88,1.62,-100,1.66],
[-80,1.56,-90,1.74,-100,1.9],
[75.3,.004,61.5,.08,40,.2,17,.41],
[71,.004,67.6,.07,64,.05,52,.12,34,.25,20,.38],
[-28,.63,-37,.67,-50,.72,-58,.78],
[-22,.62,-38,.72,-54,.84,-63.8,.83],
[-45,.72,-68,.9,-85,1.02,-100,1.17],
[-50,.8,-73,.98,-90,1.12,-100,1.23],
[-60,.9,-78,1.04,-93,1.17,-100,1.27],
[-42,.76,-60,.88,-78,.98,-92,1.08,-100,1.14],
[-55,.88,-70,.98,-84,1.08,-100,1.2],
[-64,.98,-80,1.1,-94,1.2,-100,1.25],
[-70,1.04,-84,1.16,-100,1.3],
[-78,1.14,-90,1.24,-100,1.33],
[-34,.72,-48,.84,-62,.96,-78,1.1,-94,1.24],
[-30,.68,-44,.8,-60,.94,-74,1.06,-88,1.18,-100,1.28],
[-38,.78,-52,.9,-68,1.02,-82,1.14,-100,1.32],
[-46,.86,-58,.96,-72,1.08,-86,1.2,-100,1.36],
[-52,.92,-66,1.04,-80,1.16,-92,1.28,-100,1.36],
[-40,.8,-56,.94,-70,1.06,-84,1.18,-98,1.3],
[-48,.88,-62,1,-76,1.12,-90,1.26,-100,1.35],
[-44,.82,-58,.92,-74,1.04,-88,1.14,-100,1.22],
[-54,.9,-68,1,-82,1.12,-96,1.24],
[-58,.98,-72,1.1,-86,1.22,-100,1.34],
[-66,1.06,-78,1.16,-90,1.26,-100,1.32],
[-62,1.02,-76,1.14,-88,1.24,-100,1.37],
[45,1.1,38,1.16,30,1.22,24,1.28,18,1.3,12,1.28],
[40,1.12,32,1.2,26,1.26,20,1.32,14,1.32,8,1.28],
[18,1.2,12,1.3,6,1.36,0,1.38,-6,1.36],
[14,1.2,8,1.34,2,1.46,-4,1.5,-10,1.5],
[-4,1.24,-10,1.36,-16,1.46,-24,1.56,-32,1.58],
[-10,1.24,-18,1.38,-26,1.52,-36,1.62,-46,1.66],
[-16,1.26,-24,1.4,-34,1.58,-46,1.72,-58,1.78],
[-26,1.3,-36,1.44,-46,1.62,-56,1.72,-68,1.8],
[-34,1.36,-44,1.5,-54,1.62,-66,1.74,-78,1.86,-90,2],
[-42,1.4,-52,1.54,-62,1.62,-74,1.7,-90,1.76],
[-48,1.44,-60,1.58,-72,1.66,-86,1.7,-100,1.74],
[-56,1.46,-68,1.56,-80,1.64,-92,1.72,-100,1.76],
[-66,1.48,-78,1.58,-90,1.66,-100,1.7]
];
const apparentFlecks = [[77,.42],[76,.62],[75,.72],[74,.8],[72,.56],[70,.68],[68,.78],[66,.5],[64,.7],[60,.3],[56,.36],[52,.6],[48,.42],[44,.5],[40,.66],[36,.56],[30,.72],[26,.86],[22,.98],[18,.84],[14,.92],[10,1],[6,.88],[2,1.06],[-2,.96],[-6,1.04],[-12,1.12],[-18,1.08],[-24,1.14]];

/* ---------- estimated basic systematic uncertainty ---------- */
const cycleAlt = [80,-30,-35,-40,-45,-50,-55,-58,-60,-62,-65,-70,-75,-80,-85,-90,-95,-100];
const cycleBlue = [0,0,0,.01,.02,.03,.08,.15,.28,.7,1.8,3.4,5.2,7.2,9.5,11.7,13.7,15.6];
const cycleRed = [0,0,.03,.08,.2,.6,1.4,2,2.5,3,3.8,5,6.5,8,10,12,14.3,16.8];
const cycleCloudHighAlt = [-35,-39,-44,-50,-56,-62];
const cycleCloudHigh = [1,1,2.2,4,5.5,7];
const cycleCloudLowAlt = [-35,-56,-60,-64,-66];
const cycleCloudLow = [0,0,1,3.5,5.5];
const cycleTraces = [
[-24,30,-72.2],[-25,30,-75.5],[-27,30,-76],[-28,30,-81],[-29,30,-84],[-30,30,-91.5],[-32,30,-95],[-31,28.5,-86.5],[-26,24,-76],[-33,25,-100],[-34,22,-92],[-28,23,-80],[-30,21,-80],[-35,26,-100],[-36,28,-100],[-37,25,-95],[-38,22,-88],[-34,20,-84],[-38,21.5,-100],[-39,20,-100],[-36,20,-92],[-37,18,-85],[-39,19,-90],[-40,18,-90],[-41,18,-96],[-40,17,-88],[-42,16,-82],[-41,16,-86],[-43,19,-100],[-44,17,-96],[-45,16,-92],[-42,15,-80],[-40,15,-80],[-43,14,-80],[-44,15,-90],[-46,14,-86],[-47,13,-84],[-46,15,-95],[-48,16,-100],[-49,15,-100],[-45,13,-76],[-47,12,-72],[-48,12,-78],[-49,13,-90],[-50,14,-100],[-51,13,-96],[-50,11,-74],[-52,12,-92],[-53,11,-88],[-52,14,-100],[-54,12,-100],[-55,11,-100],[-53,10,-80],[-55,10,-88],[-54,9,-76],[-56,9,-84],[-57,10,-100],[-58,9,-96],[-59,9.5,-100],[-57,8,-80],[-58,7,-76],[-60,8,-92],[-61,8.2,-100],[-62,7,-100],[-60,6.5,-80],[-62,6,-84],[-63,5.5,-86],[-64,6,-100],[-65,5,-100],[-63,4.5,-80],
[-36,12,-60],[-38,11,-58],[-37,14,-70],[-39,12,-66],[-41,13,-74],[-42,11,-64],[-43,9,-58],[-44,10,-68],[-45,9,-64],[-46,11,-76],[-47,8,-60],[-48,9,-70],[-49,7,-60],[-50,8,-72],[-51,6,-62],[-52,7,-68],[-53,5,-62],[-54,6,-70],[-55,4,-62],[-56,5,-72],[-58,3,-66],[-60,4,-74],[-61,3,-70],[-62,4,-78],[-38,17,-80],[-40,16,-78],[-42,18,-88],[-44,14,-76],[-46,17,-100],[-48,14,-94],[-50,12,-84],[-52,10,-78],[-54,8,-74],[-36,16,-74],[-34,15,-72],[-33,18,-78],[-31,20,-74],
[-38,13,-72],[-39,15,-78],[-40,12,-74],[-41,16,-84],[-42,14,-82],[-43,11,-72],[-44,18,-94],[-45,15,-88],[-46,12,-78],[-47,20,-100],[-48,17,-94],[-49,11,-76],[-50,19,-100],[-51,16,-92],[-52,13,-84],[-53,18,-100],[-54,15,-92],[-55,12,-82],[-56,17,-100],[-57,14,-92],[-58,11,-80],[-59,16,-100],[-60,13,-90],[-61,15,-100],[-62,10,-82],[-63,13,-96],[-64,14,-100],[-65,11,-90],[-66,12,-100],[-67,9,-88],[-68,11,-100],[-69,8,-86],[-70,10,-100],[-71,7,-84],[-72,9,-100],[-73,7,-92],[-74,8,-100],[-75,6,-90],[-76,7,-100],[-77,5,-88],[-78,6.5,-100],[-80,5.5,-100],[-81,5,-100],[-83,4.5,-100],[-85,4,-100],[-87,3.5,-100],[-89,3,-100],[-90,2.5,-100],[-92,2.4,-100],[-96,1.6,-98],[-97,1.5,-98],
[-66,1,-66.4],[-68,1,-68.4],[-70,1,-70.4],[-72,1,-72.4],[-74,1,-74.4],[-79,1,-79.4],[-83,1,-83.4],[-84,1,-84.4],[-86,1,-86.4],[-88,1,-88.4],[-93,1,-93.4],[-97,1,-97.4]
];

/* ---------- panel definitions ---------- */
const panels = [
 {key:'thermal-noise',col:0,row:0,xMin:-10,xMax:200,xTicks:[0,50,100,150,200],xLabels:['0','50','100','150','200'],minor:10,blue:thermalBlue,red:thermalRed,bands:[[altFive,thermalHigh,wallAlt,wallZero]],spikes:thermalSpikes,spikeFrom:0},
 {key:'receiver-clock',col:1,row:0,xMin:-.05,xMax:1,xTicks:[0,.2,.4,.6,.8,1],xLabels:['0.0','0.2','0.4','0.6','0.8','1.0'],minor:.05,blue:receiverBlue,red:receiverRed,bands:[[altFine,receiverHigh,wallAlt,wallZero]],rough:[receiverRough]},
 {key:'transmitter-clock',col:2,row:0,xMin:-.019,xMax:.5,xTicks:[0,.1,.2,.3,.4,.5],xLabels:['0.0','0.1','0.2','0.3','0.4','0.5'],minor:.02,blue:transmitterBlue,red:transmitterRed,bands:[[altFive,transmitterHigh,wallAlt,wallZero]],rough:[transmitterRough]},
 {key:'propagation-media',col:0,row:1,xMin:-10,xMax:200,xTicks:[0,50,100,150,200],xLabels:['0','50','100','150','200'],minor:10,blue:mediaBlue,red:mediaRed,bands:[[altFine,mediaHigh,wallAlt,wallZero]],spikes:mediaSpikes,spikeFrom:0,rough:[mediaRough]},
 {key:'velocity-drift',col:1,row:1,xMin:-.1,xMax:2,xTicks:[0,.5,1,1.5,2],xLabels:['0.0','0.5','1.0','1.5','2.0'],minor:.1,blue:driftBlue,red:driftRed,bands:[[driftEdgeAlt,driftHigh,driftEdgeAlt,driftLow]],straight:driftTraces},
 {key:'local-multipath',col:2,row:1,xMin:-.095,xMax:2,xTicks:[0,.5,1,1.5,2],xLabels:['0.0','0.5','1.0','1.5','2.0'],minor:.1,blue:multipathBlue,red:multipathRed,bands:[[multipathBandAlt,multipathBandHigh,multipathBandAlt,multipathBandLow]],bounce:true,flecks:multipathFlecks},
 {key:'estimated-random',col:0,row:2,xMin:-10,xMax:200,xTicks:[0,50,100,150,200],xLabels:['0','50','100','150','200'],minor:10,blue:randomBlue,red:randomRed,bands:[[altFine,randomHigh,randomLowAlt,randomLow]],spikes:mediaSpikes,spikeFrom:40,rough:[mediaRough,randomLeftRough,randomRightRough]},
 {key:'estimated-apparent',col:1,row:2,xMin:-.1,xMax:2,xTicks:[0,.5,1,1.5,2],xLabels:['0.0','0.5','1.0','1.5','2.0'],minor:.1,blue:apparentBlue,red:apparentRed,bands:[[altTen,apparentHigh,altTen,apparentLow]],rough:[apparentRough],curvy:true,flecks:apparentFlecks},
 {key:'estimated-basic',col:2,row:2,xMin:-.97,xMax:30,xTicks:[0,10,20,30],xLabels:['0','10','20','30'],minor:2,blue:cycleBlue,red:cycleRed,meanAlt:cycleAlt,bands:[[cycleCloudHighAlt,cycleCloudHigh,cycleCloudLowAlt,cycleCloudLow]],cycle:cycleTraces}
];

/* ---------- layout ---------- */
const PLOT_W = 914, PLOT_H = 990;
const COL_LEFT = [256,1653,3050];
const ROW_TOP = [112,1443,2775];
const GRAY = '#808080', BLUE = '#1f77b4', RED = '#d62728', GRID = '#aaaaaa';
const SVGNS = 'http://www.w3.org/2000/svg';

function mk(tag, attrs, parent){
  const el = document.createElementNS(SVGNS, tag);
  for (const k in attrs) el.setAttribute(k, attrs[k]);
  parent.appendChild(el);
  return el;
}
function pathFrom(pts){
  return 'M' + pts.map(p => p[0].toFixed(1) + ' ' + p[1].toFixed(1)).join('L');
}
function smoothFrom(pts){
  if (pts.length < 3) return pathFrom(pts);
  let d = 'M' + pts[0][0].toFixed(1) + ' ' + pts[0][1].toFixed(1);
  for (let i = 1; i < pts.length - 1; i++){
    const mx = (pts[i][0] + pts[i+1][0]) / 2, my = (pts[i][1] + pts[i+1][1]) / 2;
    d += 'Q' + pts[i][0].toFixed(1) + ' ' + pts[i][1].toFixed(1) + ' ' + mx.toFixed(1) + ' ' + my.toFixed(1);
  }
  const e = pts[pts.length-1];
  return d + 'L' + e[0].toFixed(1) + ' ' + e[1].toFixed(1);
}
function minorList(step, xMin, xMax, majors){
  const out = [];
  const n0 = Math.ceil(xMin / step - 1e-9), n1 = Math.floor(xMax / step + 1e-9);
  for (let n = n0; n <= n1; n++){
    const v = n * step;
    if (!majors.some(m => Math.abs(m - v) < step / 10) && v > xMin) out.push(v);
  }
  return out;
}

function drawPanel(p, idx){
  const root = document.getElementById('plots');
  const L = COL_LEFT[p.col], T = ROW_TOP[p.row], R = L + PLOT_W, B = T + PLOT_H;
  const xs = v => L + (v - p.xMin) / (p.xMax - p.xMin) * PLOT_W;
  const ys = a => T + (80 - a) / 180 * PLOT_H;

  const g = mk('g', {}, root);
  
  

  const defs = mk('defs', {}, g);
  const cp = mk('clipPath', {id:'clip' + idx}, defs);
  mk('rect', {x:L, y:T, width:PLOT_W, height:PLOT_H}, cp);

  /* grid */
  const grid = mk('g', {stroke:GRID, 'stroke-width':2.7, 'stroke-dasharray':'3 5.8', fill:'none'}, g);
  
  
  p.xTicks.forEach(v => {
    const l = mk('line', {x1:xs(v), x2:xs(v), y1:T, y2:B}, grid);
    
    
  });
  yMajorTicks.forEach(a => {
    const l = mk('line', {x1:L, x2:R, y1:ys(a), y2:ys(a)}, grid);
    
    
  });

  /* plotted series, clipped to the axes */
  const plot = mk('g', {'clip-path':'url(#clip' + idx + ')'}, g);
  
  
  const gray = mk('g', {stroke:GRAY, 'stroke-width':2.5, fill:'none', 'stroke-linejoin':'round'}, plot);
  
  

  if (p.bounce){
    /* the bouncing profiles thin out gradually toward the lowest altitudes */
    const lg = mk('linearGradient', {id:'fade' + idx, x1:0, y1:0, x2:0, y2:1}, defs);
    mk('stop', {offset:'0', 'stop-color':GRAY, 'stop-opacity':'1'}, lg);
    mk('stop', {offset:'.2', 'stop-color':GRAY, 'stop-opacity':'.7'}, lg);
    mk('stop', {offset:'.45', 'stop-color':GRAY, 'stop-opacity':'.42'}, lg);
    mk('stop', {offset:'.7', 'stop-color':GRAY, 'stop-opacity':'.12'}, lg);
    mk('stop', {offset:'1', 'stop-color':GRAY, 'stop-opacity':'0'}, lg);
    const fade = mk('rect', {x:xs(0), width:xs(1) - xs(0), y:ys(-52), height:ys(-100) - ys(-52), fill:'url(#fade' + idx + ')', stroke:'none'}, gray);
    
    
  }
  (p.bands || []).forEach(b => {
    const pts = [];
    b[0].forEach((a, i) => pts.push([xs(b[1][i]), ys(a)]));
    for (let i = b[2].length - 1; i >= 0; i--) pts.push([xs(b[3][i]), ys(b[2][i])]);
    const e = mk('path', {d:pathFrom(pts) + 'Z', fill:GRAY}, gray);
    
    
  });
  (p.spikes || []).forEach(s => {
    const e = mk('line', {x1:xs(p.spikeFrom), x2:xs(s[1]), y1:ys(s[0]), y2:ys(s[0])}, gray);
    
    
  });
  (p.rough || []).forEach(set => set.forEach(tr => {
    const pts = [];
    for (let i = 0; i + 1 < tr.length; i += 2) pts.push([xs(tr[i+1]), ys(tr[i])]);
    const e = mk('path', {d:p.curvy ? smoothFrom(pts) : pathFrom(pts)}, gray);
    
    
  }));
  (p.straight || []).forEach(tr => {
    const e = mk('line', {x1:xs(tr[0]), y1:ys(tr[1]), x2:xs(tr[2]), y2:ys(tr[3])}, gray);
    
    
  });
  (p.cycle || []).forEach(tr => {
    const pts = [[xs(0), ys(tr[0])], [xs(1), ys(tr[0] - .6)], [xs(tr[1]), ys(tr[2])]];
    const e = mk('path', {d:pathFrom(pts)}, gray);
    
    
  });
  if (p.bounce){
    multipathTurns.forEach((turns, i) => {
      let wall = multipathStartWall[i];
      let d = 'M' + xs(wall).toFixed(1) + ' ' + ys(turns[0]).toFixed(1);
      for (let k = 1; k < turns.length; k++){
        const next = 1 - wall;
        const y0 = ys(turns[k-1]), y1 = ys(turns[k]);
        const c1 = y0 + .36 * (y1 - y0), c2 = y1 - .36 * (y1 - y0);
        d += 'C' + xs(wall).toFixed(1) + ' ' + c1.toFixed(1) + ' ' + xs(next).toFixed(1) + ' ' + c2.toFixed(1) + ' ' + xs(next).toFixed(1) + ' ' + y1.toFixed(1);
        wall = next;
      }
      const e = mk('path', {d:d}, gray);
      
      
    });
  }
  (p.flecks || []).forEach(f => {
    const x = xs(f[1]), y = ys(f[0]);
    const e = mk('path', {d:'M' + (x-6) + ' ' + (y+1) + 'L' + x + ' ' + (y-2) + 'L' + (x+6) + ' ' + (y-1) + 'L' + x + ' ' + (y+2) + 'Z', fill:'#ffffff', stroke:'none'}, gray);
    
    
  });

  /* mean and dashed summary curves */
  const meanAlt = p.meanAlt || altFive;
  const bluePts = p.blue.map((v, i) => [xs(v), ys(meanAlt[i])]);
  const redPts = p.red.map((v, i) => [xs(v), ys(meanAlt[i])]);
  const blueLine = mk('path', {d:smoothFrom(bluePts), fill:'none', stroke:BLUE, 'stroke-width':10}, plot);
  
  
  const redLine = mk('path', {d:smoothFrom(redPts), fill:'none', stroke:RED, 'stroke-width':8, 'stroke-dasharray':'28.5 11'}, plot);
  
  

  /* spines */
  const spines = mk('path', {d:'M' + L + ' ' + B + 'V' + T + 'H' + R + 'V' + B + 'Z', fill:'none', stroke:'#000', 'stroke-width':3}, g);
  
  

  /* y ticks + labels */
  const ticks = mk('g', {stroke:'#000', 'stroke-width':2.4, fill:'none'}, g);
  
  
  yMajorTicks.forEach((a, i) => {
    const y = ys(a);
    const t1 = mk('line', {x1:L, x2:L + 28, y1:y, y2:y}, ticks);
    
    
    const t2 = mk('line', {x1:R, x2:R + 14, y1:y, y2:y}, ticks);
    
    
    const lab = mk('text', {class:'tk', x:L - 16, y:y + 19, 'text-anchor':'end'}, g);
    lab.textContent = yLeftLabels[i];
    
    
    if (yRightLabels[i]){
      const lab2 = mk('text', {class:'tk', x:R + 25, y:y + 19}, g);
      lab2.textContent = yRightLabels[i];
      
      
    }
  });
  for (let a = 75; a > -100; a -= 5){
    if (a % 20 === 0) continue;
    const y = ys(a);
    const t = mk('line', {x1:L, x2:L + 14, y1:y, y2:y}, ticks);
    
    
  }

  /* x ticks + labels */
  p.xTicks.forEach((v, i) => {
    const x = xs(v);
    const t = mk('line', {x1:x, x2:x, y1:B, y2:B - 28}, ticks);
    
    
    const lab = mk('text', {class:'tk', x:x, y:B + 52, 'text-anchor':'middle'}, g);
    lab.textContent = p.xLabels[i];
    
    
  });
  minorList(p.minor, p.xMin, p.xMax, p.xTicks).forEach(v => {
    const x = xs(v);
    const t = mk('line', {x1:x, x2:x, y1:B, y2:B - 14}, ticks);
    
    
  });
}
panels.forEach(drawPanel);
</script>
</body>
</html>
